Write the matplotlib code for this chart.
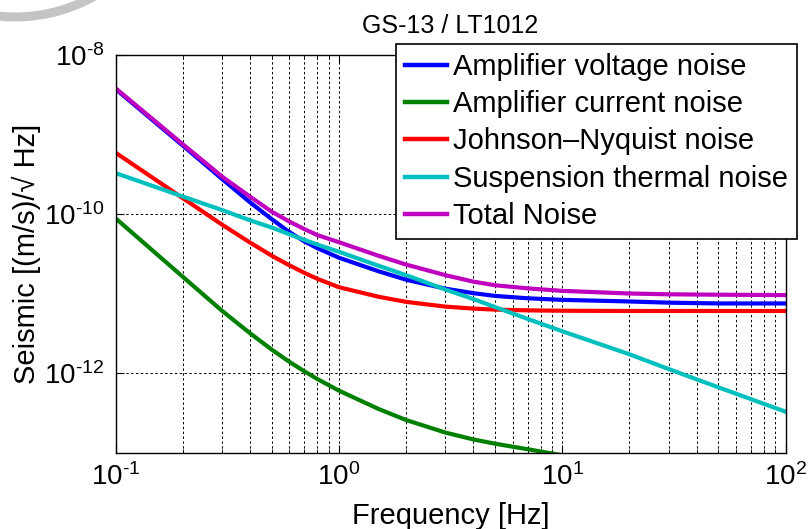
#!/usr/bin/env python3
# GS-13 seismometer with LT1012 preamp: noise budget in ground velocity units

import matplotlib.pyplot as plt
from matplotlib.lines import Line2D
from matplotlib.patches import Arc
from matplotlib.ticker import NullLocator, LogLocator, FuncFormatter
from matplotlib.transforms import Affine2D
import math

plt.switch_backend('agg')
plt.rcParams['font.family'] = ['Liberation Sans', 'DejaVu Sans']
plt.rcParams['mathtext.fontset'] = 'custom'
plt.rcParams['mathtext.rm'] = 'Liberation Sans'

freq = [0.1, 0.2, 0.3, 0.4, 0.5, 0.6, 0.7, 0.8, 1.0, 1.5,
        2.0, 3.0, 4.0, 5.0, 7.0, 10.0, 20.0, 30.0, 50.0, 100.0]

amp_voltage = [3.72e-9, 7.24e-10, 2.75e-10, 1.40e-10, 8.61e-11, 5.92e-11,
               4.52e-11, 3.72e-11, 2.82e-11, 1.91e-11, 1.49e-11, 1.15e-11,
               1.01e-11, 9.33e-12, 8.71e-12, 8.32e-12, 7.94e-12, 7.67e-12,
               7.50e-12, 7.50e-12]
amp_current = [8.81e-11, 1.62e-11, 6.03e-12, 3.16e-12, 1.97e-12, 1.38e-12,
               1.05e-12, 8.40e-13, 6.00e-13, 3.54e-13, 2.56e-13, 1.78e-13,
               1.46e-13, 1.29e-13, 1.10e-13, 9.23e-14]
johnson = [5.90e-10, 1.58e-10, 7.33e-11, 4.37e-11, 2.99e-11, 2.26e-11,
           1.82e-11, 1.53e-11, 1.20e-11, 9.12e-12, 7.85e-12, 6.84e-12,
           6.46e-12, 6.27e-12, 6.14e-12, 6.07e-12, 6.03e-12, 6.03e-12,
           6.03e-12, 6.03e-12]
susp_thermal = [3.27e-10, 1.66e-10, 1.12e-10, 8.32e-11, 6.76e-11, 5.56e-11,
                4.73e-11, 4.12e-11, 3.35e-11, 2.24e-11, 1.70e-11, 1.12e-11,
                8.51e-12, 6.76e-12, 4.79e-12, 3.35e-12, 1.72e-12, 1.12e-12,
                6.61e-13, 3.26e-13]
total = [3.81e-9, 7.52e-10, 2.95e-10, 1.65e-10, 1.07e-10, 8.02e-11,
         6.46e-11, 5.43e-11, 4.42e-11, 2.99e-11, 2.31e-11, 1.70e-11,
         1.41e-11, 1.27e-11, 1.16e-11, 1.08e-11, 1.00e-11, 9.77e-12,
         9.66e-12, 9.55e-12]

labels = ['Amplifier voltage noise', 'Amplifier current noise',
          'Johnson\u2013Nyquist noise', 'Suspension thermal noise',
          'Total Noise']
colors = ['#0000ff', '#008000', '#ff0000', '#00bfbf', '#bf00bf']
series = [amp_voltage, amp_current, johnson, susp_thermal, total]

fig = plt.figure(figsize=(8.1, 5.29), dpi=100)
ax = fig.add_axes([0.1428, 0.1446, 0.8270, 0.7514])

for vals, c in zip(series, colors):
    ax.loglog(freq[:len(vals)], vals, color=c, lw=3,
              solid_joinstyle='round')

ax.set_xlim(0.1, 100)
ax.set_ylim(1e-13, 1e-8)
ax.set_yticks([1e-12, 1e-10, 1e-8])
ax.yaxis.set_minor_locator(NullLocator())
ax.xaxis.set_minor_locator(LogLocator(base=10, subs=range(2, 10)))


def decade(v, pos):
    # MATLAB-style label: plain hyphen in the exponent
    e = int(round(math.log10(v)))
    sign = r'\text{-}' if e < 0 else ''
    return r'$\mathdefault{10^{%s%d}}$' % (sign, abs(e))


ax.xaxis.set_major_formatter(FuncFormatter(decade))
ax.yaxis.set_major_formatter(FuncFormatter(decade))

dots = (0, (2.5, 2.5))
ax.grid(True, which='major', color='k', ls=dots, lw=0.7)
ax.grid(True, which='minor', axis='x', color='k', ls=dots, lw=0.7)
ax.tick_params(which='both', direction='in', top=True, right=True,
               labelsize=20, pad=8)
ax.tick_params(which='major', length=6)
ax.tick_params(which='minor', length=3)
for s in ax.spines.values():
    s.set_linewidth(1.0)

ax.set_title('GS-13 / LT1012', fontsize=18, pad=16)
ax.set_xlabel('Frequency [Hz]', fontsize=21)
ax.xaxis.set_label_coords(0.5, -0.125)
ax.set_ylabel('Seismic [(m/s)/\u221a Hz]', fontsize=21)
ax.yaxis.set_label_coords(-0.112, 0.5)

handles = [Line2D([], [], color=c, lw=3.2) for c in colors]
leg = ax.legend(handles, labels, loc='upper left',
                bbox_to_anchor=(396 / 810, 1 - 44 / 529),
                bbox_transform=fig.transFigure, borderaxespad=0,
                fontsize=21, handlelength=1.45, handletextpad=0.2,
                labelspacing=0.32, borderpad=0.3, fancybox=False,
                framealpha=1, edgecolor='k')
leg.get_frame().set_linewidth(1.2)

# faint grey arc in the top-left corner
px = Affine2D().scale(1 / 810, 1 / 529) + fig.transFigure
fig.add_artist(Arc((15, 673), 322, 322, theta1=230, theta2=300,
                   color='#c4c4c4', lw=6.5, transform=px))

fig.savefig('out.png', dpi=100)
